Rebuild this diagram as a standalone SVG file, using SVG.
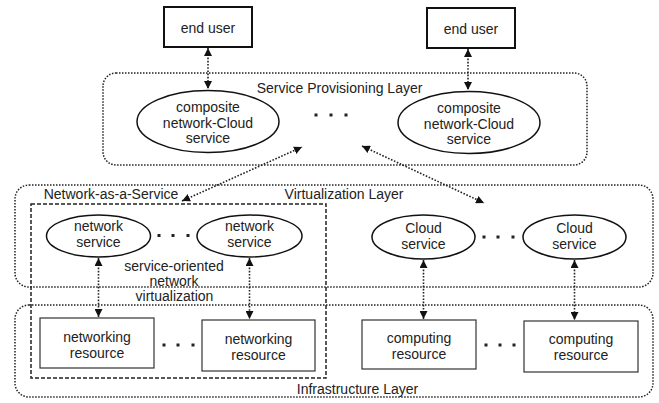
<svg xmlns="http://www.w3.org/2000/svg" width="659" height="403" viewBox="0 0 659 403">
<style>
text{font-family:"Liberation Sans",Arial,sans-serif;font-size:14px;fill:#222;text-anchor:middle}
.layer{fill:none;stroke:#222;stroke-width:1.5;stroke-dasharray:1.5 1.5}
.naas{fill:none;stroke:#222;stroke-width:1.5;stroke-dasharray:4 2}
.ell{fill:#fff;stroke:#111;stroke-width:1.5}
.box{fill:#fff;stroke:#333;stroke-width:1.2}
.user{fill:#fff;stroke:#111;stroke-width:2}
.conn{fill:none;stroke:#222;stroke-width:1.6;stroke-dasharray:1.6 1.6}
.dot{fill:#222}
</style>
<defs>
<marker id="ah" viewBox="0 0 10 10" refX="10" refY="5" markerWidth="8" markerHeight="8" markerUnits="userSpaceOnUse" orient="auto-start-reverse">
<path d="M0,0 L10,5 L0,10 z" fill="#111"/>
</marker>
</defs>
<g id="layers">
<rect id="service-provisioning-layer" class="layer" x="103" y="73" width="484" height="92" rx="13"/>
<text x="339.5" y="93">Service Provisioning Layer</text>
<rect id="virtualization-layer" class="layer" x="15" y="185" width="638" height="102" rx="14"/>
<text x="344" y="199">Virtualization Layer</text>
<rect id="infrastructure-layer" class="layer" x="15" y="305" width="638" height="92" rx="14"/>
<text x="357.5" y="394">Infrastructure Layer</text>
<rect id="naas" class="naas" x="31" y="204" width="295" height="174"/>
<text x="111" y="199">Network-as-a-Service</text>
<text x="174" y="270.5">service-oriented</text>
<text x="174" y="285.5">network</text>
<text x="174.5" y="301">virtualization</text>
</g>
<g id="end-user-1"><rect class="user" x="164" y="7" width="88" height="40"/><text x="208" y="33">end user</text></g>
<g id="end-user-2"><rect class="user" x="427" y="8" width="88" height="40"/><text x="471" y="34">end user</text></g>
<g id="composite-1"><ellipse class="ell" cx="208" cy="121.5" rx="71" ry="31"/>
<text x="208" y="111.5">composite</text><text x="208" y="127.5">network-Cloud</text><text x="208" y="143">service</text></g>
<g id="composite-2"><ellipse class="ell" cx="469" cy="122.5" rx="71" ry="31"/>
<text x="469" y="112.5">composite</text><text x="469" y="128.5">network-Cloud</text><text x="469" y="144">service</text></g>
<g id="network-service-1"><ellipse class="ell" cx="98.5" cy="236" rx="52" ry="21"/>
<text x="98.5" y="230.5">network</text><text x="98.5" y="246.5">service</text></g>
<g id="network-service-2"><ellipse class="ell" cx="249.5" cy="236" rx="52.5" ry="21"/>
<text x="249.5" y="230.5">network</text><text x="249.5" y="246.5">service</text></g>
<g id="cloud-service-1"><ellipse class="ell" cx="423.5" cy="237" rx="51.5" ry="22"/>
<text x="423.5" y="233">Cloud</text><text x="423.5" y="249">service</text></g>
<g id="cloud-service-2"><ellipse class="ell" cx="574.5" cy="237" rx="51.5" ry="22"/>
<text x="574.5" y="233">Cloud</text><text x="574.5" y="249">service</text></g>
<g id="networking-resource-1"><rect class="box" x="40" y="318" width="114" height="50"/>
<text x="97" y="342">networking</text><text x="97" y="358">resource</text></g>
<g id="networking-resource-2"><rect class="box" x="202" y="320" width="113" height="51"/>
<text x="258.5" y="344">networking</text><text x="258.5" y="360">resource</text></g>
<g id="computing-resource-1"><rect class="box" x="362" y="320" width="114" height="49"/>
<text x="419" y="343">computing</text><text x="419" y="359">resource</text></g>
<g id="computing-resource-2"><rect class="box" x="524" y="321" width="114" height="51"/>
<text x="581" y="344">computing</text><text x="581" y="360">resource</text></g>
<g id="ellipses">
<rect class="dot" x="314.5" y="113.5" width="3" height="3"/><rect class="dot" x="329.5" y="113.5" width="3" height="3"/><rect class="dot" x="344.5" y="113.5" width="3" height="3"/>
<rect class="dot" x="157.5" y="234" width="3" height="3"/><rect class="dot" x="171.5" y="234" width="3" height="3"/><rect class="dot" x="186.5" y="234" width="3" height="3"/>
<rect class="dot" x="482.5" y="235.5" width="3" height="3"/><rect class="dot" x="496.5" y="235.5" width="3" height="3"/><rect class="dot" x="511.5" y="235.5" width="3" height="3"/>
<rect class="dot" x="162.5" y="343.5" width="3" height="3"/><rect class="dot" x="176.5" y="343.5" width="3" height="3"/><rect class="dot" x="191.5" y="343.5" width="3" height="3"/>
<rect class="dot" x="484.5" y="343.5" width="3" height="3"/><rect class="dot" x="498.5" y="343.5" width="3" height="3"/><rect class="dot" x="512.5" y="343.5" width="3" height="3"/>
</g>
<g id="connectors">
<line class="conn" x1="208" y1="48" x2="208" y2="89" marker-start="url(#ah)" marker-end="url(#ah)"/>
<line class="conn" x1="468" y1="49" x2="468" y2="90" marker-start="url(#ah)" marker-end="url(#ah)"/>
<line class="conn" x1="182" y1="201" x2="302" y2="147" marker-start="url(#ah)" marker-end="url(#ah)"/>
<line class="conn" x1="362" y1="146" x2="484" y2="203" marker-start="url(#ah)" marker-end="url(#ah)"/>
<line class="conn" x1="98.5" y1="258" x2="98.5" y2="317" marker-start="url(#ah)" marker-end="url(#ah)"/>
<line class="conn" x1="249.5" y1="258" x2="249.5" y2="319" marker-start="url(#ah)" marker-end="url(#ah)"/>
<line class="conn" x1="423.5" y1="260" x2="423.5" y2="319" marker-start="url(#ah)" marker-end="url(#ah)"/>
<line class="conn" x1="574.5" y1="260" x2="574.5" y2="320" marker-start="url(#ah)" marker-end="url(#ah)"/>
</g>
</svg>
